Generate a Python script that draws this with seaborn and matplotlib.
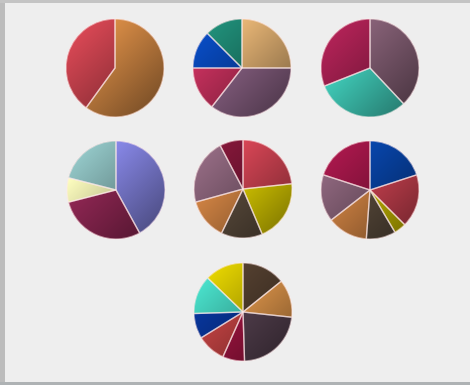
import numpy as np
import matplotlib
matplotlib.use("Agg")
import matplotlib.pyplot as plt
import matplotlib.colors as mcolors
from matplotlib.patches import Rectangle
import seaborn as sns

# slice shares, clockwise from 12 o'clock
pie1_vals = [60, 40]
pie2_vals = [25, 35.5, 14.5, 12.5, 12.5]
pie3_vals = [38, 31, 31]
pie4_vals = [42, 29, 8, 21]
pie5_vals = [23.3, 20.3, 13.6, 13.5, 21.6, 7.7]
pie6_vals = [20, 17.5, 4, 9.7, 13.3, 15.5, 20]
pie7_vals = [14.2, 12.5, 22.8, 7.2, 9.5, 8.3, 12.7, 12.8]

pie1_colors = ['#d88c46', '#c8424e']
pie2_colors = ['#e8b676', '#90668a', '#c4305c', '#0846b4', '#1e8470']
pie3_colors = ['#886278', '#44d8c4', '#a42050']
pie4_colors = ['#8888e8', '#942856', '#f4f4b8', '#88b8b8']
pie5_colors = ['#d84656', '#ecdc00', '#605040', '#d88846', '#886278', '#7c1636']
pie6_colors = ['#0846ac', '#d84656', '#d8c800', '#605040', '#d88846', '#886278', '#9c1646']
pie7_colors = ['#544030', '#eea050', '#5c4656', '#ac1646', '#cc4646', '#08369c', '#44d0bc', '#d4c400']

pies = [
    (pie1_vals, pie1_colors), (pie2_vals, pie2_colors), (pie3_vals, pie3_colors),
    (pie4_vals, pie4_colors), (pie5_vals, pie5_colors), (pie6_vals, pie6_colors),
    (pie7_vals, pie7_colors),
]

sns.set_theme(style="white")

W, H = 470, 385
fig = plt.figure(figsize=(W / 100, H / 100), dpi=100)
fig.patch.set_facecolor('#eeeeee')

# window frame edges
fig.patches.append(Rectangle((0, 0), 5 / W, 1, transform=fig.transFigure,
                             facecolor='#bcbcbc', edgecolor='none'))
fig.patches.append(Rectangle((0, 1 - 3 / H), 1, 3 / H, transform=fig.transFigure,
                             facecolor='#c4c4c4', edgecolor='none'))
fig.patches.append(Rectangle((0, 0), 1, 3 / H, transform=fig.transFigure,
                             facecolor='#aeb2b4', edgecolor='none'))

centers = [(115, 68), (242, 68), (370, 68),
           (116, 190), (243, 189), (370, 190),
           (243, 312)]
R = 50

# diagonal shading: light at top-left, dark at bottom-right
n = 200
gx, gy = np.meshgrid(np.linspace(-1, 1, n), np.linspace(1, -1, n))
t = np.clip(((gx - gy) / (2 * np.sqrt(2))) + 0.5, 0, 1)
shade = 1.08 - 0.48 * t

for (vals, cols), (cx, cy) in zip(pies, centers):
    ax = fig.add_axes([(cx - R) / W, 1 - (cy + R) / H, 2 * R / W, 2 * R / H])
    wedges, _ = ax.pie(vals, colors=cols, startangle=90, counterclock=False,
                       radius=1, wedgeprops=dict(linewidth=0))
    for w, c in zip(wedges, cols):
        rgb = np.array(mcolors.to_rgb(c))
        img = np.clip(rgb[None, None, :] * shade[:, :, None], 0, 1)
        im = ax.imshow(img, extent=[-1, 1, -1, 1], zorder=2, interpolation='bilinear')
        im.set_clip_path(w)
    edges, _ = ax.pie(vals, colors=['none'] * len(vals), startangle=90,
                      counterclock=False, radius=1,
                      wedgeprops=dict(linewidth=1.0, edgecolor=(1, 0.92, 0.92, 0.55)))
    for e in edges:
        e.set_zorder(3)
    ax.set_xlim(-1.02, 1.02)
    ax.set_ylim(-1.02, 1.02)
    ax.set_aspect('equal')
    ax.axis('off')

fig.savefig('out.png', dpi=100, facecolor=fig.get_facecolor())
